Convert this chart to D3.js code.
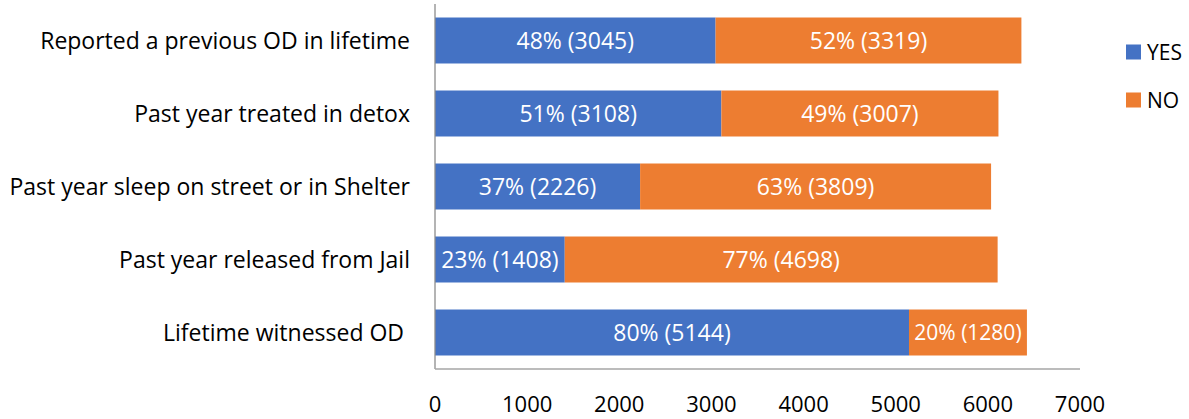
<!DOCTYPE html>
<html>
<head>
<meta charset="utf-8">
<script src="https://cdn.jsdelivr.net/npm/d3@7"></script>
<style>
	body { margin: 0; background: #fff; }
	text { font-family: 'Open Sans', sans-serif; }
</style>
</head>
<body>
<div id="chart"></div>
<script>
// data
const categories = [
	'Reported a previous OD in lifetime',
	'Past year treated in detox',
	'Past year sleep on street or in Shelter',
	'Past year released from Jail',
	'Lifetime witnessed OD '
];
const yesValues = [3045, 3108, 2226, 1408, 5144];
const noValues = [3319, 3007, 3809, 4698, 1280];
const yesPct = [48, 51, 37, 23, 80];
const noPct = [52, 49, 63, 77, 20];
const seriesNames = ['YES', 'NO'];
const xTicks = [0, 1000, 2000, 3000, 4000, 5000, 6000, 7000];

const colors = ['#4472C4', '#ED7D31'];

const width = 1189, height = 419;
const plot = { left: 435, right: 1080, top: 4, bottom: 369 };

const svg = d3.select('#chart').append('svg')
	.attr('width', width)
	.attr('height', height);

const x = d3.scaleLinear().domain([0, 7000]).range([plot.left, plot.right]);
const y = d3.scaleBand().domain(categories).range([plot.top, plot.bottom]).paddingInner(0.37).paddingOuter(0.185);

// build stacked rows
const rows = categories.map((c, i) => ({
	cat: c,
	segs: [
		{ s: 0, x0: 0, x1: yesValues[i], label: `${yesPct[i]}% (${yesValues[i]})` },
		{ s: 1, x0: yesValues[i], x1: yesValues[i] + noValues[i], label: `${noPct[i]}% (${noValues[i]})` }
	]
}));

const row = svg.selectAll('.row').data(rows).enter().append('g').attr('class', 'row');

row.selectAll('rect').data(d => d.segs.map(s => ({ ...s, cat: d.cat }))).enter()
	.append('rect')
	.attr('x', d => x(d.x0))
	.attr('y', d => y(d.cat))
	.attr('width', d => x(d.x1) - x(d.x0))
	.attr('height', y.bandwidth())
	.attr('fill', d => colors[d.s]);

// bar labels, shrink a little when the segment is narrow
row.selectAll('.lbl').data(d => d.segs.map(s => ({ ...s, cat: d.cat }))).enter()
	.append('text')
	.attr('class', 'lbl')
	.attr('x', d => (x(d.x0) + x(d.x1)) / 2)
	.attr('y', d => y(d.cat) + y.bandwidth() / 2)
	.attr('dy', '0.36em')
	.attr('text-anchor', 'middle')
	.attr('fill', '#fff')
	.style('font-size', d => (x(d.x1) - x(d.x0) < 125 ? '21px' : '23px'))
	.text(d => d.label);

// axes lines
svg.append('line')
	.attr('x1', plot.left).attr('x2', plot.left)
	.attr('y1', plot.top).attr('y2', plot.bottom)
	.attr('stroke', '#8c8c8c').attr('stroke-width', 1.3);
svg.append('line')
	.attr('x1', plot.left).attr('x2', plot.right)
	.attr('y1', plot.bottom).attr('y2', plot.bottom)
	.attr('stroke', '#a6a6a6').attr('stroke-width', 1.3);

// x tick labels
svg.selectAll('.xt').data(xTicks).enter().append('text')
	.attr('class', 'xt')
	.attr('x', d => x(d))
	.attr('y', 404)
	.attr('dy', '0.36em')
	.attr('text-anchor', 'middle')
	.attr('fill', '#000')
	.style('font-size', '22px')
	.text(d => d);

// category labels
svg.selectAll('.cat').data(categories).enter().append('text')
	.attr('class', 'cat')
	.attr('x', 410)
	.attr('y', d => y(d) + y.bandwidth() / 2)
	.attr('dy', '0.36em')
	.attr('text-anchor', 'end')
	.attr('fill', '#000')
	.style('font-size', '23px')
	.style('white-space', 'pre')
	.text(d => d);

// legend
const legend = svg.selectAll('.leg').data(seriesNames).enter().append('g')
	.attr('class', 'leg')
	.attr('transform', (d, i) => `translate(1126, ${52 + i * 48})`);
legend.append('rect')
	.attr('x', 0).attr('y', -7.5)
	.attr('width', 15).attr('height', 15)
	.attr('fill', (d, i) => colors[i]);
legend.append('text')
	.attr('x', 21).attr('y', 0)
	.attr('dy', '0.36em')
	.attr('fill', '#000')
	.style('font-size', '21px')
	.text(d => d);
</script>
</body>
</html>
